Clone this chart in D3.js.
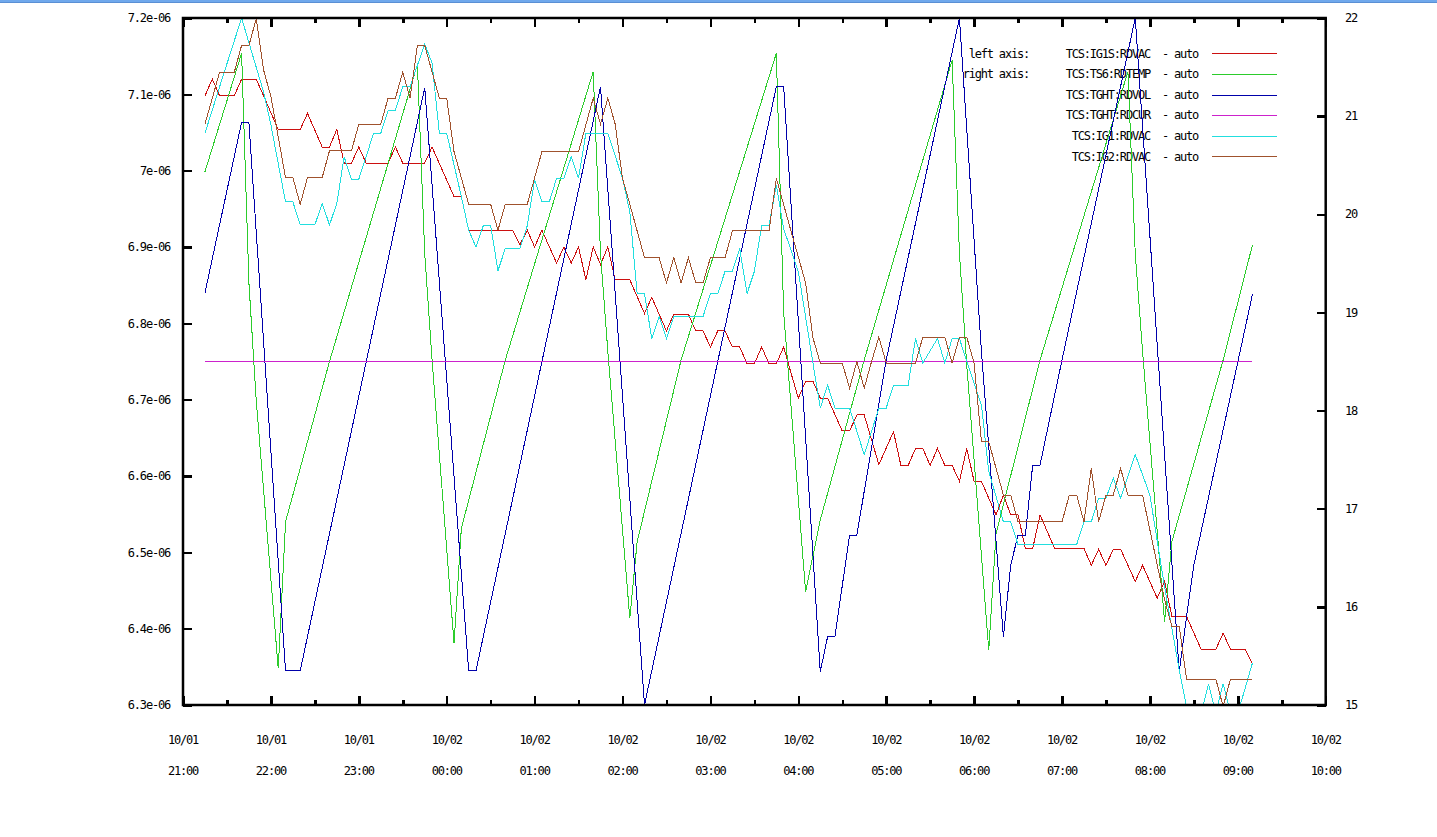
<!DOCTYPE html>
<html><head><meta charset="utf-8">
<script src="https://cdn.jsdelivr.net/npm/d3@7"></script>
<style>
html,body{margin:0;padding:0;background:#fff;overflow:hidden}
svg text{font-family:"DejaVu Sans Mono","Liberation Mono",monospace;font-size:12px;letter-spacing:-1.2px;fill:#000}
</style></head><body>
<svg id="chart" width="1437" height="837"></svg>
<script>
// ---------------- data ----------------
const LEFT_UNIT = 1e-6; // left-axis series are stored in units of 1e-06

const xTickDates = ["10/01","10/01","10/01","10/02","10/02","10/02","10/02","10/02","10/02","10/02","10/02","10/02","10/02","10/02"];
const xTickTimes = ["21:00","22:00","23:00","00:00","01:00","02:00","03:00","04:00","05:00","06:00","07:00","08:00","09:00","10:00"];
const leftTickValues = [6.3,6.4,6.5,6.6,6.7,6.8,6.9,7.0,7.1,7.2];
const leftTickLabels = ["6.3e-06","6.4e-06","6.5e-06","6.6e-06","6.7e-06","6.8e-06","6.9e-06","7e-06","7.1e-06","7.2e-06"];
const rightTickValues = [15,16,17,18,19,20,21,22];
const rightTickLabels = ["15","16","17","18","19","20","21","22"];

// TCS:IG1S:RDVAC (left axis, x1e-06)
const ig1sRdvac = [
 ["21:15",7.098],["21:20",7.120],["21:25",7.098],["21:35",7.098],["21:40",7.120],["21:50",7.120],
 ["22:05",7.054],["22:20",7.054],["22:25",7.075],["22:35",7.031],["22:40",7.031],["22:45",7.054],
 ["22:50",7.010],["22:55",7.010],["23:00",7.031],["23:05",7.010],["23:20",7.010],["23:25",7.031],
 ["23:30",7.010],["23:45",7.010],["23:50",7.031],["00:05",6.966],["00:10",6.966],["00:15",6.922],
 ["00:45",6.922],["00:50",6.903],["00:55",6.922],["01:00",6.900],["01:05",6.922],["01:15",6.879],
 ["01:20",6.900],["01:25",6.879],["01:30",6.900],["01:35",6.857],["01:40",6.900],["01:45",6.877],
 ["01:50",6.900],["01:55",6.857],["02:05",6.857],["02:15",6.813],["02:20",6.834],["02:30",6.790],
 ["02:35",6.812],["02:45",6.812],["02:50",6.790],["02:55",6.790],["03:00",6.769],["03:05",6.790],
 ["03:10",6.790],["03:15",6.769],["03:20",6.769],["03:25",6.747],["03:30",6.747],["03:35",6.769],
 ["03:40",6.747],["03:45",6.747],["03:50",6.769],["03:55",6.735],["04:00",6.702],["04:05",6.724],
 ["04:10",6.724],["04:15",6.702],["04:20",6.702],["04:30",6.659],["04:35",6.659],["04:40",6.680],
 ["04:45",6.680],["04:55",6.615],["05:05",6.658],["05:10",6.614],["05:15",6.614],["05:20",6.636],
 ["05:25",6.636],["05:30",6.614],["05:35",6.636],["05:40",6.614],["05:45",6.614],["05:50",6.593],
 ["05:55",6.636],["06:00",6.593],["06:05",6.593],["06:15",6.549],["06:20",6.575],["06:25",6.549],
 ["06:30",6.549],["06:35",6.505],["06:40",6.505],["06:45",6.549],["06:55",6.505],["07:15",6.505],
 ["07:20",6.483],["07:25",6.504],["07:30",6.483],["07:35",6.504],["07:40",6.504],["07:50",6.462],
 ["07:55",6.483],["08:05",6.440],["08:10",6.462],["08:15",6.416],["08:25",6.416],["08:35",6.373],
 ["08:45",6.373],["08:50",6.394],["08:55",6.373],["09:05",6.373],["09:10",6.354]
];

// TCS:TS6:RDTEMP (right axis)
const ts6Rdtemp = [
 ["21:15",20.434],["21:40",21.640],["21:45",19.3],["21:50",18.1],["22:05",15.373],["22:10",16.868],
 ["22:40",18.50],["23:40",21.528],["23:45",19.6],["23:50",18.515],["00:05",15.628],["00:10",16.800],
 ["00:40",18.515],["01:40",21.453],["01:45",19.6],["01:50",18.6],["02:05",15.883],["02:10",16.664],
 ["02:40",18.515],["03:45",21.640],["03:50",19.0],["04:05",16.154],["04:15",16.885],["04:45",18.515],
 ["05:45",21.570],["05:50",19.6],["05:55",18.46],["06:10",15.560],["06:15",16.749],["06:45",18.515],
 ["07:45",21.453],["07:50",19.6],["07:55",18.6],["08:10",15.848],["08:15",16.664],["08:50",18.515],
 ["09:10",19.687]
];

// TCS:TGHT:RDVOL (right axis)
const tghtRdvol = [
 ["21:15",19.20],["21:40",20.937],["21:45",20.937],["22:10",15.349],["22:20",15.349],["23:45",21.29],
 ["00:15",15.349],["00:20",15.349],["01:45",21.30],["02:15",15.0],["03:45",21.30],["03:50",21.30],
 ["04:15",15.339],["04:20",15.696],["04:25",15.696],["04:35",16.732],["04:40",16.732],["05:00",18.515],
 ["05:50",22.0],["06:05",18.6],["06:20",15.696],["06:25",16.426],["06:30",16.732],["06:35",16.732],
 ["06:40",17.445],["06:45",17.445],["07:00",18.515],["07:50",22.0],["08:20",15.339],["08:25",15.899],
 ["08:30",16.426],["09:10",19.184]
];

// TCS:TGHT:RDCUR (right axis)
const tghtRdcur = [["21:15",18.5],["09:10",18.5]];

// TCS:IG1:RDVAC (left axis, x1e-06)
const ig1Rdvac = [
 ["21:15",7.049],["21:25",7.110],["21:40",7.200],["21:55",7.103],["22:00",7.060],["22:10",6.959],
 ["22:15",6.959],["22:20",6.929],["22:30",6.929],["22:35",6.957],["22:40",6.929],["22:45",6.957],
 ["22:50",7.018],["22:55",6.989],["23:00",6.989],["23:05",7.018],["23:10",7.049],["23:15",7.049],
 ["23:20",7.079],["23:25",7.079],["23:30",7.110],["23:35",7.110],["23:45",7.166],["23:50",7.141],
 ["23:55",7.049],["00:00",7.049],["00:10",6.966],["00:15",6.922],["00:20",6.900],["00:25",6.928],
 ["00:30",6.928],["00:35",6.869],["00:40",6.898],["00:50",6.898],["00:55",6.928],["01:00",6.988],
 ["01:05",6.959],["01:10",6.959],["01:15",6.990],["01:20",6.990],["01:25",7.018],["01:30",6.990],
 ["01:35",7.049],["01:50",7.049],["02:00",6.990],["02:05",6.946],["02:10",6.839],["02:15",6.839],
 ["02:20",6.780],["02:25",6.809],["02:30",6.780],["02:35",6.809],["02:55",6.809],["03:00",6.839],
 ["03:05",6.839],["03:10",6.868],["03:15",6.868],["03:20",6.898],["03:25",6.839],["03:30",6.868],
 ["03:35",6.928],["03:40",6.928],["03:45",6.981],["03:50",6.924],["04:00",6.868],["04:10",6.748],
 ["04:15",6.689],["04:20",6.719],["04:25",6.689],["04:35",6.689],["04:45",6.628],["04:55",6.689],
 ["05:00",6.689],["05:05",6.719],["05:15",6.719],["05:20",6.780],["05:25",6.748],["05:35",6.780],
 ["05:40",6.748],["05:45",6.780],["05:50",6.780],["05:55",6.750],["06:05",6.693],["06:10",6.606],
 ["06:20",6.540],["06:25",6.540],["06:30",6.510],["07:10",6.510],["07:15",6.540],["07:20",6.540],
 ["07:25",6.571],["07:30",6.571],["07:35",6.597],["07:40",6.571],["07:50",6.628],["08:00",6.575],
 ["08:10",6.455],["08:20",6.346],["08:25",6.298],["08:30",6.289],["08:35",6.289],["08:40",6.328],
 ["08:45",6.289],["08:50",6.328],["08:55",6.289],["09:00",6.289],["09:10",6.355]
];

// TCS:IG2:RDVAC (left axis, x1e-06)
const ig2Rdvac = [
 ["21:15",7.061],["21:25",7.129],["21:35",7.129],["21:40",7.164],["21:45",7.164],["21:50",7.199],
 ["21:55",7.132],["22:00",7.097],["22:10",6.991],["22:15",6.991],["22:20",6.956],["22:25",6.991],
 ["22:35",6.991],["22:40",7.026],["22:55",7.026],["23:00",7.061],["23:15",7.061],["23:20",7.095],
 ["23:25",7.095],["23:30",7.129],["23:35",7.095],["23:40",7.164],["23:45",7.164],["23:55",7.095],
 ["00:00",7.095],["00:05",7.025],["00:15",6.956],["00:30",6.956],["00:35",6.922],["00:40",6.956],
 ["00:55",6.956],["01:05",7.025],["01:30",7.025],["01:40",7.095],["01:45",7.061],["01:50",7.095],
 ["01:55",7.061],["02:00",6.990],["02:05",6.956],["02:15",6.886],["02:25",6.886],["02:30",6.853],
 ["02:35",6.886],["02:40",6.853],["02:45",6.886],["02:50",6.853],["02:55",6.853],["03:00",6.886],
 ["03:10",6.886],["03:15",6.921],["03:40",6.921],["03:45",6.990],["03:55",6.921],["04:05",6.853],
 ["04:10",6.781],["04:15",6.748],["04:30",6.748],["04:35",6.715],["04:40",6.750],["04:45",6.715],
 ["04:50",6.750],["04:55",6.782],["05:00",6.748],["05:20",6.748],["05:25",6.782],["05:40",6.782],
 ["05:45",6.748],["05:50",6.782],["05:55",6.782],["06:00",6.748],["06:05",6.645],["06:10",6.645],
 ["06:20",6.575],["06:25",6.575],["06:30",6.540],["07:00",6.540],["07:05",6.575],["07:10",6.575],
 ["07:15",6.540],["07:20",6.610],["07:25",6.540],["07:30",6.575],["07:35",6.575],["07:40",6.610],
 ["07:45",6.575],["07:55",6.575],["08:10",6.438],["08:15",6.403],["08:20",6.403],["08:25",6.334],
 ["08:45",6.334],["08:50",6.298],["08:55",6.334],["09:10",6.334]
];

const series = [
 {name:"TCS:IG1S:RDVAC", data:ig1sRdvac, axis:"left",  color:"#cc1010"},
 {name:"TCS:TS6:RDTEMP", data:ts6Rdtemp, axis:"right", color:"#2ccc2c"},
 {name:"TCS:TGHT:RDVOL", data:tghtRdvol, axis:"right", color:"#0000aa"},
 {name:"TCS:TGHT:RDCUR", data:tghtRdcur, axis:"right", color:"#cc22cc"},
 {name:"TCS:IG1:RDVAC",  data:ig1Rdvac,  axis:"left",  color:"#22dede"},
 {name:"TCS:IG2:RDVAC",  data:ig2Rdvac,  axis:"left",  color:"#a0522d"}
];

// ---------------- drawing ----------------
const W = 1437, H = 837;
const L = 183, R = 1325.7, T = 18, B = 705;
const parseFull = d3.timeParse("%Y/%m/%d %H:%M");
const tickDate = (d, t) => parseFull(`2007/${d} ${t}`);
// sample time: evening hours belong to 10/01, morning hours to 10/02
const sampleDate = hhmm => tickDate(+hhmm.slice(0,2) >= 12 ? "10/01" : "10/02", hhmm);

const majorTicks = xTickTimes.map((t,i) => tickDate(xTickDates[i], t));
const minorTicks = majorTicks.slice(0,-1).map(d => d3.timeMinute.offset(d, 30));

const x = d3.scaleTime().domain([majorTicks[0], majorTicks[majorTicks.length-1]]).range([L, R]);
const yL = d3.scaleLinear().domain([leftTickValues[0]*LEFT_UNIT, leftTickValues[leftTickValues.length-1]*LEFT_UNIT]).range([B, T]);
const yR = d3.scaleLinear().domain([rightTickValues[0], rightTickValues[rightTickValues.length-1]]).range([B, T]);

const svg = d3.select("#chart");
svg.append("rect").attr("width", W).attr("height", H).attr("fill", "#fff");
// window title strip at the very top
svg.append("rect").attr("x",0).attr("y",0).attr("width",W).attr("height",2).attr("fill","#6fa8ec");
svg.append("rect").attr("x",0).attr("y",2).attr("width",W).attr("height",1).attr("fill","#5a8fd4");

svg.append("clipPath").attr("id","plotclip").append("rect")
  .attr("x",L).attr("y",T).attr("width",R-L).attr("height",B-T);

function styleAxis(g){
  g.select(".domain").remove();
  g.selectAll(".tick line").attr("stroke","#000").attr("stroke-width",2.5).attr("shape-rendering","crispEdges");
  g.selectAll(".tick text").remove();
}
// x ticks (inward, top and bottom)
svg.append("g").attr("transform",`translate(0,${B})`)
  .call(d3.axisBottom(x).tickValues(majorTicks).tickSize(-9).tickSizeOuter(0)).call(styleAxis);
svg.append("g").attr("transform",`translate(0,${B})`)
  .call(d3.axisBottom(x).tickValues(minorTicks).tickSize(-5).tickSizeOuter(0)).call(styleAxis);
svg.append("g").attr("transform",`translate(0,${T})`)
  .call(d3.axisTop(x).tickValues(majorTicks).tickSize(-9).tickSizeOuter(0)).call(styleAxis);
svg.append("g").attr("transform",`translate(0,${T})`)
  .call(d3.axisTop(x).tickValues(minorTicks).tickSize(-5).tickSizeOuter(0)).call(styleAxis);
// y ticks
svg.append("g").attr("transform",`translate(${L},0)`)
  .call(d3.axisLeft(yL).tickValues(leftTickValues.map(v=>v*LEFT_UNIT)).tickSize(-9).tickSizeOuter(0)).call(styleAxis);
svg.append("g").attr("transform",`translate(${R},0)`)
  .call(d3.axisRight(yR).tickValues(rightTickValues).tickSize(-9).tickSizeOuter(0)).call(styleAxis);

// tick labels
svg.append("g").selectAll("text").data(leftTickValues).join("text")
  .attr("x", 170).attr("y", v => yL(v*LEFT_UNIT)).attr("dy","0.35em").attr("text-anchor","end")
  .text((v,i) => leftTickLabels[i]);
svg.append("g").selectAll("text").data(rightTickValues).join("text")
  .attr("x", 1345).attr("y", v => yR(v)).attr("dy","0.35em")
  .text((v,i) => rightTickLabels[i]);
const xl = svg.append("g");
xl.selectAll("text.d").data(majorTicks).join("text").attr("class","d")
  .attr("x", d => x(d)).attr("y", 740).attr("dy","0.35em").attr("text-anchor","middle")
  .text((d,i) => xTickDates[i]);
xl.selectAll("text.t").data(majorTicks).join("text").attr("class","t")
  .attr("x", d => x(d)).attr("y", 771).attr("dy","0.35em").attr("text-anchor","middle")
  .text((d,i) => xTickTimes[i]);

// legend
const legY0 = 53.3, legStep = 20.6;
const leg = svg.append("g");
leg.append("text").attr("x",1029).attr("y",legY0).attr("dy","0.35em").attr("text-anchor","end").text("left axis:");
leg.append("text").attr("x",1029).attr("y",legY0+legStep).attr("dy","0.35em").attr("text-anchor","end").text("right axis:");
series.forEach((s,i) => {
  const y = legY0 + i*legStep;
  leg.append("text").attr("x",1150).attr("y",y).attr("dy","0.35em").attr("text-anchor","end").text(s.name);
  leg.append("text").attr("x",1162).attr("y",y).attr("dy","0.35em").text("- auto");
  leg.append("line").attr("x1",1212).attr("x2",1277).attr("y1",Math.round(y)+0.5).attr("y2",Math.round(y)+0.5)
    .attr("stroke",s.color).attr("stroke-width",1);
});

// series lines
const plot = svg.append("g").attr("clip-path","url(#plotclip)");
series.forEach(s => {
  const yS = s.axis === "left" ? (v => yL(v*LEFT_UNIT)) : (v => yR(v));
  const line = d3.line().x(d => x(sampleDate(d[0]))).y(d => yS(d[1]));
  plot.append("path").datum(s.data).attr("d", line)
    .attr("fill","none").attr("stroke",s.color).attr("stroke-width",1)
    .attr("shape-rendering","crispEdges");
});

// frame
svg.append("rect").attr("x",L).attr("y",T).attr("width",R-L).attr("height",B-T)
  .attr("fill","none").attr("stroke","#000").attr("stroke-width",2.5);
</script>
</body></html>
